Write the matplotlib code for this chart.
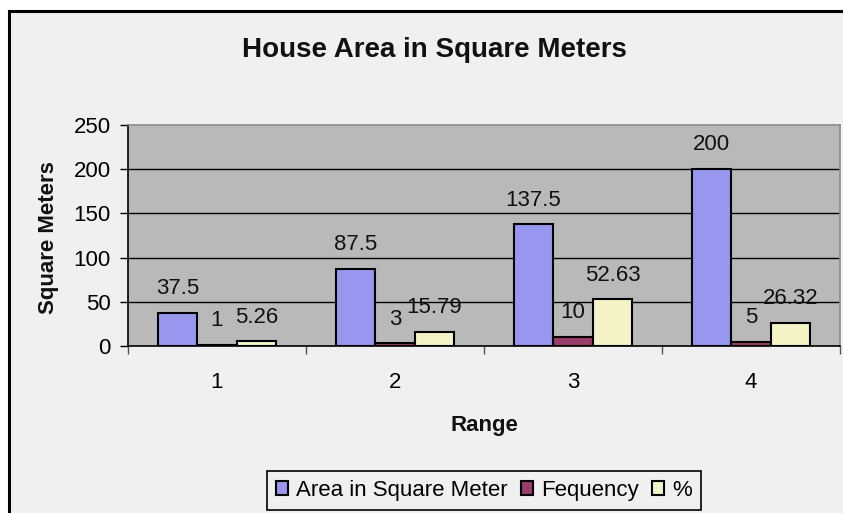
import matplotlib
matplotlib.use("Agg")
import matplotlib.pyplot as plt
from matplotlib.patches import Rectangle
import numpy as np

plt.rcParams['font.family'] = ['Liberation Sans', 'DejaVu Sans']

categories = ["1", "2", "3", "4"]
area = [37.5, 87.5, 137.5, 200]
frequency = [1, 3, 10, 5]
percent = [5.26, 15.79, 52.63, 26.32]
series_names = ["Area in Square Meter", "Fequency", "%"]
y_ticks = [0, 50, 100, 150, 200, 250]

colors = ["#9797EF", "#993D6A", "#F3F3C6"]
W, H = 843, 513
DPI = 100

fig = plt.figure(figsize=(W / DPI, H / DPI), dpi=DPI, facecolor="white")


def fx(px):
    return px / W


def fy(py):
    return 1 - py / H


# chart area with dark border (extends past the right/bottom edges)
fig.patches.append(Rectangle((fx(9), fy(560)), fx(900), fy(11) - fy(560),
                             transform=fig.transFigure, facecolor="#F0F0F0",
                             edgecolor="black", linewidth=2.2, zorder=-5))

ax = fig.add_axes([fx(128), fy(346), fx(840) - fx(128), fy(125) - fy(346)])
ax.set_facecolor("#B9B9B9")

x = np.arange(1, len(categories) + 1)
bw = 0.222
series = [area, frequency, percent]
for i, (vals, col, name) in enumerate(zip(series, colors, series_names)):
    pos = x + (i - 1) * bw
    ax.bar(pos, vals, width=bw, color=col, edgecolor="black",
           linewidth=1.5, label=name, zorder=3)
    for xp, v in zip(pos, vals):
        ax.annotate(f"{v:g}", (xp, v), xytext=(0, 13.5), textcoords="offset points",
                    ha="center", va="baseline", fontsize=16, color="#111111",
                    zorder=4)

ax.set_xlim(0.5, 4.5)
ax.set_ylim(0, 250)
ax.set_yticks(y_ticks)
ax.set_yticklabels([str(t) for t in y_ticks], fontsize=16)
ax.tick_params(axis="y", length=5.5, width=1, pad=7, color="black")
for t in y_ticks[1:-1]:
    ax.axhline(t, color="black", linewidth=1, zorder=1)

ax.set_xticks(x)
ax.set_xticklabels(categories, fontsize=16)
ax.set_xticks(np.arange(0.5, 4.6, 1), minor=True)
ax.tick_params(axis="x", which="major", length=0, pad=19)
ax.tick_params(axis="x", which="minor", length=6, width=1, color="#555555")

for side in ("top", "right"):
    ax.spines[side].set_color("#8C8C8C")
    ax.spines[side].set_linewidth(1.2)
for side in ("left", "bottom"):
    ax.spines[side].set_color("black")
    ax.spines[side].set_linewidth(1.2)

fig.text(fx(434), fy(50), "House Area in Square Meters", ha="center", va="center",
         fontsize=20, fontweight="bold", color="#111111")
fig.text(fx(49), fy(238), "Square Meters", ha="center", va="center", rotation=90,
         fontsize=16, fontweight="bold", color="#111111")
fig.text(fx(484), fy(425), "Range", ha="center", va="center",
         fontsize=16, fontweight="bold", color="#111111")

leg = fig.legend(loc="upper center", bbox_to_anchor=(fx(484), fy(471)), ncol=3,
                 fontsize=16, frameon=True, fancybox=False, shadow=False,
                 edgecolor="black", facecolor="#F0F0F0", framealpha=1,
                 handlelength=0.55, handleheight=0.55, handletextpad=0.35,
                 columnspacing=0.6, borderpad=0.4, borderaxespad=0)
leg.get_frame().set_linewidth(1.2)

fig.savefig("out.png", dpi=DPI, facecolor=fig.get_facecolor())
